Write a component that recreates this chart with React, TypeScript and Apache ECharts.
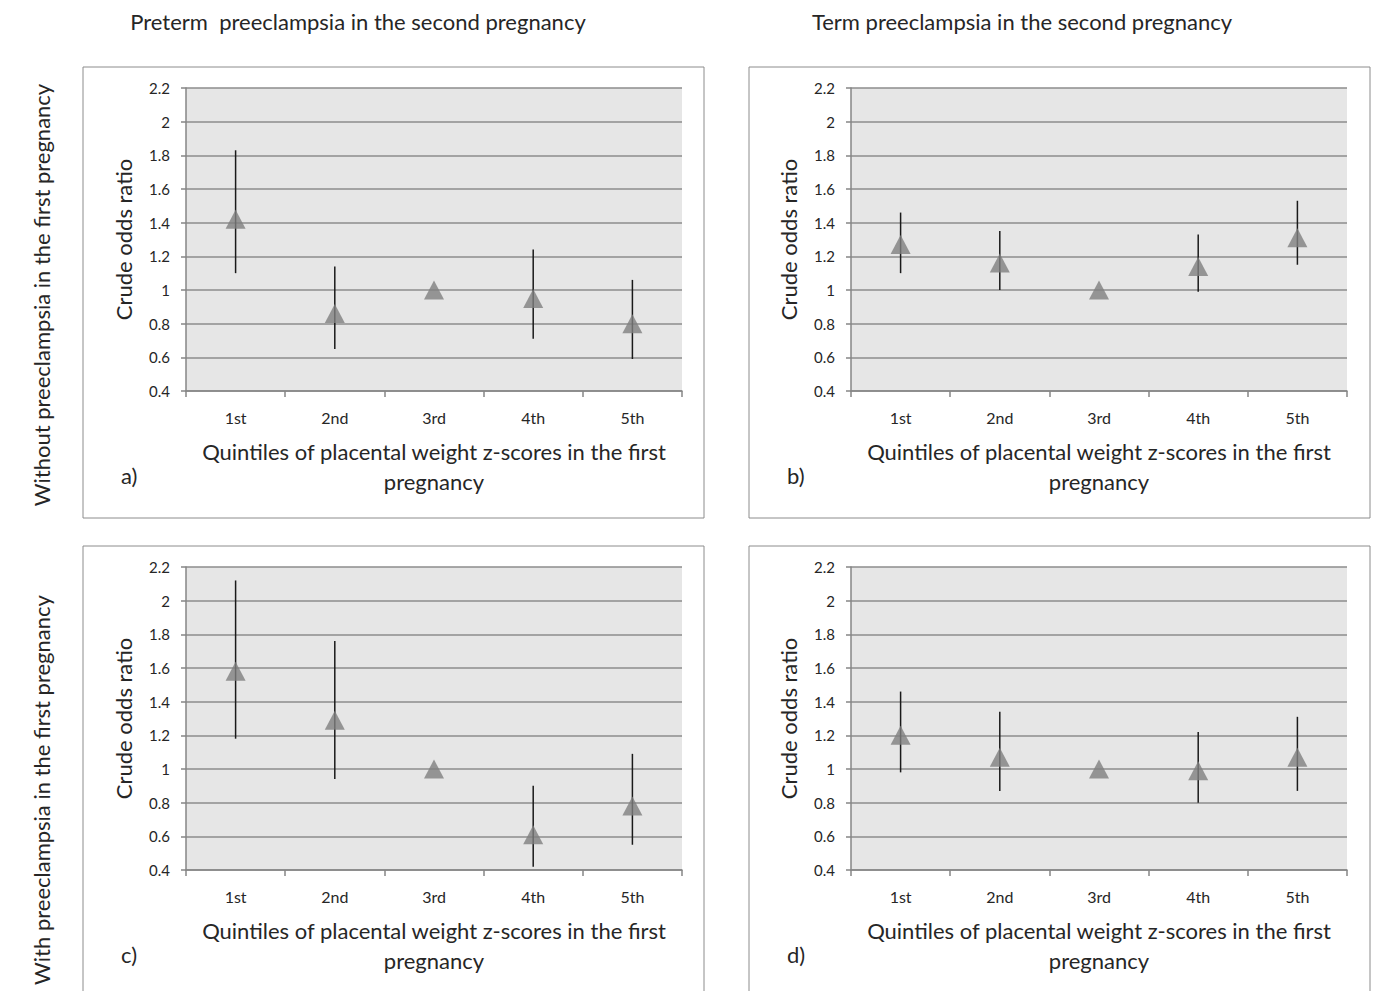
import React, { useEffect, useRef } from "react";
import * as echarts from "echarts";

const categories = ["1st", "2nd", "3rd", "4th", "5th"];

// panel a: without PE in first, preterm PE in second
const aPoint = [1.42, 0.86, 1.0, 0.95, 0.8];
const aLow = [1.1, 0.65, null, 0.71, 0.59];
const aHigh = [1.83, 1.14, null, 1.24, 1.06];

// panel b: without PE in first, term PE in second
const bPoint = [1.27, 1.16, 1.0, 1.14, 1.31];
const bLow = [1.1, 1.0, null, 0.99, 1.15];
const bHigh = [1.46, 1.35, null, 1.33, 1.53];

// panel c: with PE in first, preterm PE in second
const cPoint = [1.58, 1.29, 1.0, 0.61, 0.78];
const cLow = [1.18, 0.94, null, 0.42, 0.55];
const cHigh = [2.12, 1.76, null, 0.9, 1.09];

// panel d: with PE in first, term PE in second
const dPoint = [1.2, 1.07, 1.0, 0.99, 1.07];
const dLow = [0.98, 0.87, null, 0.8, 0.87];
const dHigh = [1.46, 1.34, null, 1.22, 1.31];

const yTickMin = 0.4;
const yTickMax = 2.2;
const yTickStep = 0.2;

const colTitles = [
  "Preterm  preeclampsia in the second pregnancy",
  "Term preeclampsia in the second pregnancy",
];
const rowTitles = [
  "Without preeclampsia in the first pregnancy",
  "With preeclampsia in the first pregnancy",
];
const panelLetters = ["a)", "b)", "c)", "d)"];
const xName = "Quintiles of placental weight z-scores in the first\npregnancy";
const yName = "Crude odds ratio";

const FONT = "Lato, 'Open Sans', sans-serif";
const TXT = "#262626";

export default function App() {
  const ref = useRef<HTMLDivElement>(null);

  useEffect(() => {
    if (!ref.current) return;
    const chart = echarts.init(ref.current, undefined, { renderer: "svg" });

    const panels = [
      { p: aPoint, lo: aLow, hi: aHigh, left: 186, top: 88 },
      { p: bPoint, lo: bLow, hi: bHigh, left: 851, top: 88 },
      { p: cPoint, lo: cLow, hi: cHigh, left: 186, top: 567 },
      { p: dPoint, lo: dLow, hi: dHigh, left: 851, top: 567 },
    ];
    const boxes = [
      { x: 83, y: 67, w: 621, h: 451 },
      { x: 749, y: 67, w: 621, h: 451 },
      { x: 83, y: 546, w: 621, h: 450 },
      { x: 749, y: 546, w: 621, h: 450 },
    ];

    const grid: any[] = [];
    const xAxis: any[] = [];
    const yAxis: any[] = [];
    const series: any[] = [];

    panels.forEach((pn, i) => {
      grid.push({
        left: pn.left,
        top: pn.top,
        width: 496,
        height: 303,
        show: true,
        backgroundColor: "#e6e6e6",
        borderWidth: 0,
      });
      xAxis.push({
        type: "category",
        gridIndex: i,
        data: categories,
        boundaryGap: true,
        axisLine: { lineStyle: { color: "#868686", width: 1.5 } },
        axisTick: { show: true, length: 6, lineStyle: { color: "#868686", width: 1.5 } },
        axisLabel: { color: TXT, fontSize: 16, fontFamily: FONT, margin: 18 },
        name: xName,
        nameLocation: "middle",
        nameGap: 45,
        nameTextStyle: { color: TXT, fontSize: 22, fontFamily: FONT, lineHeight: 30 },
      });
      yAxis.push({
        type: "value",
        gridIndex: i,
        min: yTickMin,
        max: yTickMax,
        interval: yTickStep,
        axisLine: { show: true, lineStyle: { color: "#868686", width: 1.5 } },
        axisTick: { show: true, length: 5, lineStyle: { color: "#868686", width: 1.5 } },
        axisLabel: {
          color: TXT,
          fontSize: 15,
          fontFamily: FONT,
          margin: 16,
          formatter: (v: number) => String(Math.round(v * 10) / 10),
        },
        splitLine: { show: true, lineStyle: { color: "#8c8c8c", width: 1.5 } },
        name: yName,
        nameLocation: "middle",
        nameGap: 52,
        nameTextStyle: { color: TXT, fontSize: 22, fontFamily: FONT },
      });
      const errData = categories
        .map((_, k) => [k, pn.lo[k], pn.hi[k]])
        .filter((d) => d[1] !== null && d[2] !== null);
      series.push({
        type: "custom",
        xAxisIndex: i,
        yAxisIndex: i,
        z: 2,
        data: errData,
        encode: { x: 0, y: [1, 2] },
        renderItem: (params: any, api: any) => {
          const lo = api.coord([api.value(0), api.value(1)]);
          const hi = api.coord([api.value(0), api.value(2)]);
          return {
            type: "line",
            shape: { x1: lo[0], y1: lo[1], x2: hi[0], y2: hi[1] },
            style: { stroke: "#1a1a1a", lineWidth: 1.5 },
          };
        },
      });
      series.push({
        type: "scatter",
        xAxisIndex: i,
        yAxisIndex: i,
        z: 3,
        symbol: "triangle",
        symbolSize: [20, 19],
        itemStyle: { color: "#7f7f7f" },
        data: pn.p,
      });
    });

    const graphic: any[] = [];
    boxes.forEach((b, i) => {
      graphic.push({
        type: "rect",
        z: -10,
        shape: { x: b.x, y: b.y, width: b.w, height: b.h },
        style: { fill: "none", stroke: "#8c8c8c", lineWidth: 1 },
      });
      graphic.push({
        type: "text",
        x: b.x + 38,
        y: b.y + 408,
        style: {
          text: panelLetters[i],
          fontSize: 22,
          fontFamily: FONT,
          fill: TXT,
          textAlign: "left",
          textVerticalAlign: "middle",
        },
      });
    });
    graphic.push({
      type: "text",
      x: 358,
      y: 21,
      style: { text: colTitles[0], fontSize: 22, fontFamily: FONT, fill: TXT, textAlign: "center", textVerticalAlign: "middle" },
    });
    graphic.push({
      type: "text",
      x: 1022,
      y: 21,
      style: { text: colTitles[1], fontSize: 22, fontFamily: FONT, fill: TXT, textAlign: "center", textVerticalAlign: "middle" },
    });
    graphic.push({
      type: "text",
      x: 41,
      y: 295,
      rotation: Math.PI / 2,
      style: { text: rowTitles[0], fontSize: 22, fontFamily: FONT, fill: TXT, textAlign: "center", textVerticalAlign: "middle" },
    });
    graphic.push({
      type: "text",
      x: 41,
      y: 790,
      rotation: Math.PI / 2,
      style: { text: rowTitles[1], fontSize: 22, fontFamily: FONT, fill: TXT, textAlign: "center", textVerticalAlign: "middle" },
    });

    chart.setOption({
      animation: false,
      backgroundColor: "#ffffff",
      grid,
      xAxis,
      yAxis,
      series,
      graphic,
    });
    return () => chart.dispose();
  }, []);

  return (
    <div
      ref={ref}
      style={{ position: "absolute", left: 0, top: 0, width: 1381, height: 991 }}
    />
  );
}
